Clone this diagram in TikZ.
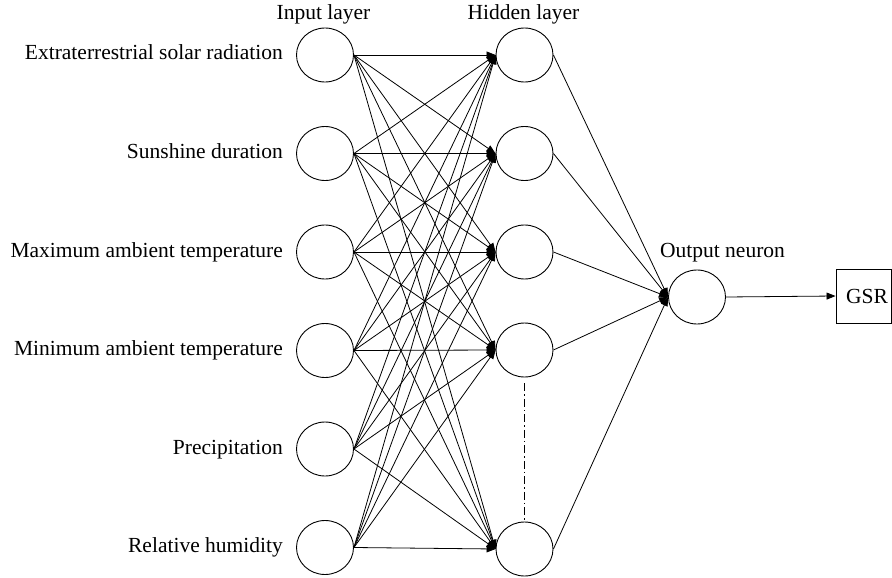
\documentclass[tikz,border=0pt]{standalone}
\usepackage{fontspec}
\setmainfont{Liberation Serif}
\usetikzlibrary{arrows.meta,shapes.geometric}
\begin{document}
\begin{tikzpicture}[x=1pt,y=-1pt,
  neuron/.style={draw, ellipse, minimum width=57pt, minimum height=54pt, inner sep=0pt, line width=0.9pt},
  lbl/.style={font=\fontsize{21.5}{25}\selectfont, inner sep=0pt},
  conn/.style={line width=0.8pt, -{Triangle[length=9pt,width=7pt]}},
  gap/.style={line width=0.8pt, dash pattern=on 8pt off 3pt on 1.5pt off 3pt}]
\useasboundingbox (0,0) rectangle (892,578);
% input layer
\foreach \i/\y in {1/55,2/153.5,3/252,4/350.5,5/449,6/547.5}
  \node[neuron] (i\i) at (325,\y) {};
% hidden layer
\foreach \i/\y in {1/55,2/153.5,3/252,4/350,5/549}
  \node[neuron] (h\i) at (524.5,\y) {};
% output
\node[neuron] (o) at (697,297) {};
\node[draw, line width=0.9pt, font=\fontsize{21.5}{25}\selectfont, text width=49pt, align=right,
      inner xsep=3pt, inner ysep=0pt, minimum height=54pt] (gsr) at (863.5,296) {GSR};
% labels
\node[lbl, anchor=base east] (l1) at (283,60) {Extraterrestrial solar radiation};
\node[lbl, anchor=base east] (l2) at (283,158.5) {Sunshine duration};
\node[lbl, anchor=base east] (l3) at (283,257) {Maximum ambient temperature};
\node[lbl, anchor=base east] (l4) at (283,355.5) {Minimum ambient temperature};
\node[lbl, anchor=base east] (l5) at (283,454) {Precipitation};
\node[lbl, anchor=base east] (l6) at (283,552.5) {Relative humidity};
\node[lbl, anchor=base] (t1) at (323.5,20) {Input layer};
\node[lbl, anchor=base] (t2) at (523.5,20) {Hidden layer};
\node[lbl, anchor=base] (t3) at (722.5,257) {Output neuron};
% connections
\foreach \a in {1,...,6}
  \foreach \b in {1,...,5}
    \draw[conn] (i\a.east) -- (h\b.west);
\foreach \b in {1,...,5}
  \draw[conn] (h\b.east) -- (o.west);
\draw[conn] (o.east) -- (gsr.west);
\draw[gap] ([yshift=-6pt]h4.south) -- ([yshift=2pt]h5.north);
\end{tikzpicture}
\end{document}
